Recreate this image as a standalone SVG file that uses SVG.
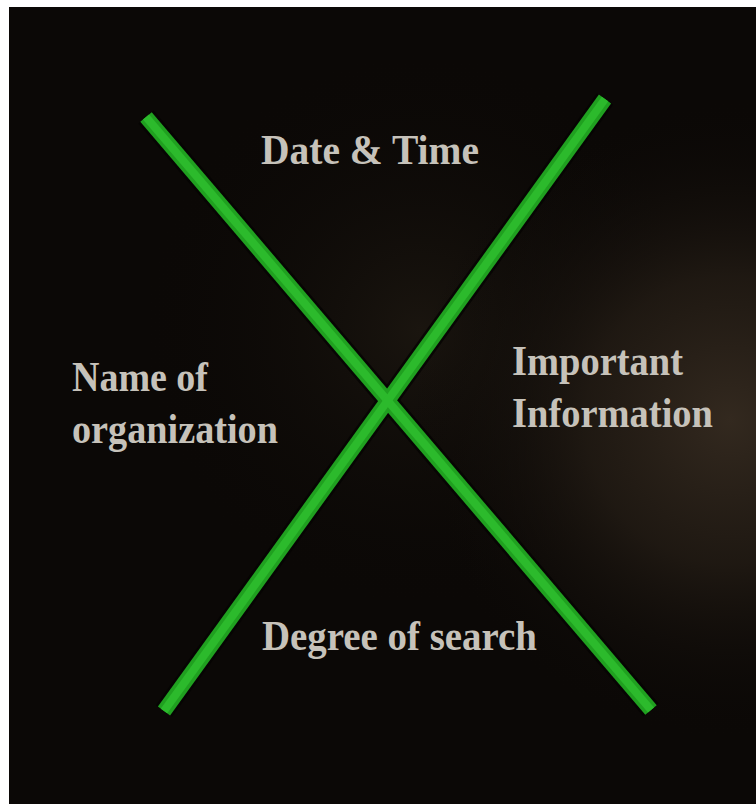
<svg xmlns="http://www.w3.org/2000/svg" width="756" height="804" viewBox="0 0 756 804">
<defs>
<radialGradient id="glow" cx="730" cy="420" r="320" gradientUnits="userSpaceOnUse">
<stop offset="0" stop-color="#33291f"/>
<stop offset="0.45" stop-color="#221b14" stop-opacity="0.85"/>
<stop offset="1" stop-color="#0b0806" stop-opacity="0"/>
</radialGradient>
<radialGradient id="glow2" cx="420" cy="330" r="280" gradientUnits="userSpaceOnUse">
<stop offset="0" stop-color="#1a150f"/>
<stop offset="1" stop-color="#0b0806" stop-opacity="0"/>
</radialGradient>
</defs>
<style>
.lbl{font-family:"Liberation Serif","Times New Roman",serif;font-weight:bold;font-size:42px;fill:#c6c2ba;}
.shadow{stroke:#050403;stroke-width:20;stroke-linecap:butt;fill:none;opacity:0.8}
.bar{stroke:#20a020;stroke-width:15;stroke-linecap:butt;fill:none}
.core{stroke:#2cba2c;stroke-width:8;stroke-linecap:butt;fill:none}
</style>
<rect x="0" y="0" width="756" height="804" fill="#ffffff"/>
<rect x="9" y="7" width="747" height="797" fill="#0b0806"/>
<rect x="9" y="7" width="747" height="797" fill="url(#glow2)"/>
<rect x="9" y="7" width="747" height="797" fill="url(#glow)"/>
<g id="connectors">
<line class="shadow" x1="146" y1="117" x2="651" y2="710"/>
<line class="shadow" x1="605" y1="99" x2="164" y2="711"/>
<line class="bar" x1="146" y1="117" x2="651" y2="710"/>
<line class="bar" x1="605" y1="99" x2="164" y2="711"/>
<line class="core" x1="146" y1="117" x2="651" y2="710"/>
<line class="core" x1="605" y1="99" x2="164" y2="711"/>
</g>
<g id="date-time">
<text class="lbl" x="261" y="164" textLength="218" lengthAdjust="spacingAndGlyphs">Date &amp; Time</text>
</g>
<g id="name-of-organization">
<text class="lbl" x="72" y="391" textLength="136" lengthAdjust="spacingAndGlyphs">Name of</text>
<text class="lbl" x="72" y="443" textLength="206" lengthAdjust="spacingAndGlyphs">organization</text>
</g>
<g id="important-information">
<text class="lbl" x="512" y="375" textLength="171" lengthAdjust="spacingAndGlyphs">Important</text>
<text class="lbl" x="512" y="427" textLength="201" lengthAdjust="spacingAndGlyphs">Information</text>
</g>
<g id="degree-of-search">
<text class="lbl" x="262" y="650" textLength="275" lengthAdjust="spacingAndGlyphs">Degree of search</text>
</g>
</svg>
